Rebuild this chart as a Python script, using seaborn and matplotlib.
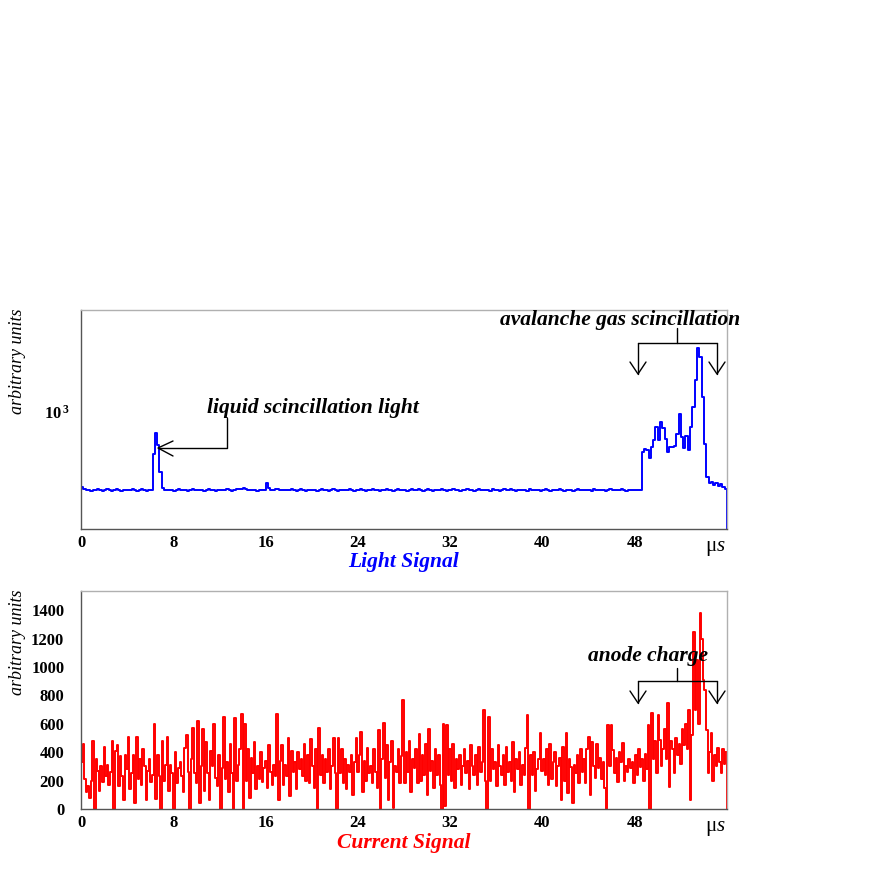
import numpy as np
import pandas as pd
import matplotlib
matplotlib.use("Agg")
import matplotlib.pyplot as plt
from matplotlib.lines import Line2D
from matplotlib.ticker import MultipleLocator, FixedLocator, NullFormatter
import seaborn as sns

# ---------------- data (0 .. 56 us) ----------------
t_max = 56.0

light_signal = [
    252, 246, 240, 238, 236, 240, 238, 242, 239, 236,
    240, 242, 238, 237, 240, 243, 239, 236, 238, 241,
    240, 238, 242, 240, 237, 239, 243, 240, 236, 238,
    238, 464, 680, 547, 330, 250, 240, 238, 241, 239,
    237, 240, 242, 239, 238, 240, 237, 239, 242, 240,
    238, 241, 239, 236, 240, 243, 238, 240, 237, 239,
    241, 238, 240, 242, 239, 236, 240, 244, 246, 242,
    248, 244, 240, 238, 241, 239, 237, 240, 238, 241,
    272, 250, 240, 238, 242, 244, 240, 238, 241, 239,
    240, 243, 238, 236, 240, 242, 239, 237, 240, 241,
    239, 241, 237, 240, 243, 240, 238, 236, 239, 242,
    240, 237, 239, 241, 238, 240, 243, 239, 237, 240,
    238, 242, 240, 237, 239, 241, 244, 240, 238, 236,
    240, 239, 242, 238, 240, 237, 241, 243, 239, 238,
    241, 237, 240, 246, 240, 238, 242, 239, 236, 240,
    243, 239, 237, 240, 241, 238, 244, 240, 237, 239,
    240, 242, 238, 241, 237, 240, 239, 245, 240, 238,
    236, 240, 243, 239, 241, 238, 240, 237, 242, 240,
    239, 236, 240, 242, 238, 241, 244, 239, 237, 240,
    241, 238, 240, 237, 243, 240, 238, 241, 239, 236,
    240, 242, 239, 237, 241, 238, 240, 244, 240, 237,
    238, 241, 240, 236, 239, 242, 240, 238, 241, 239,
    240, 237, 243, 239, 240, 238, 241, 237, 240, 242,
    239, 241, 238, 240, 244, 239, 237, 240, 238, 241,
    240, 238, 241, 480, 508, 500, 430, 520, 589, 750,
    590, 822, 740, 600, 475, 520, 520, 530, 668, 955,
    625, 515, 640, 500, 750, 1080, 1760, 3140, 2700, 1300,
    555, 301, 270, 275, 262, 272, 258, 265, 252, 245,
]

current_signal = [
    330, 460, 210, 120, 160, 75, 200, 480, 0, 350,
    270, 130, 300, 190, 440, 230, 310, 170, 260, 480,
    0, 410, 450, 160, 370, 230, 60, 380, 280, 510,
    140, 250, 380, 40, 510, 210, 350, 170, 420, 300,
    60, 270, 350, 190, 240, 600, 70, 380, 230, 0,
    480, 200, 310, 510, 130, 310, 250, 0, 400, 180,
    290, 330, 230, 120, 430, 520, 260, 0, 350, 570,
    250, 180, 620, 40, 300, 560, 130, 470, 250, 60,
    410, 300, 600, 220, 160, 380, 0, 290, 650, 210,
    330, 120, 460, 250, 0, 640, 200, 310, 420, 670,
    0, 600, 200, 420, 80, 360, 250, 470, 140, 300,
    210, 400, 190, 290, 340, 150, 450, 260, 170, 310,
    230, 670, 60, 340, 450, 170, 310, 230, 500, 90,
    410, 260, 330, 140, 400, 280, 350, 230, 460, 200,
    380, 180, 490, 300, 150, 420, 0, 568, 240, 380,
    180, 350, 260, 420, 140, 300, 497, 250, 0, 500,
    250, 420, 180, 350, 140, 310, 260, 380, 100, 330,
    500, 260, 380, 545, 120, 340, 200, 430, 250, 300,
    180, 420, 260, 150, 556, 0, 350, 606, 220, 450,
    60, 330, 480, 10, 300, 260, 420, 180, 370, 768,
    180, 400, 260, 480, 120, 350, 290, 420, 180, 530,
    200, 380, 240, 460, 100, 560, 270, 340, 150, 420,
    240, 380, 170, 0, 600, 20, 590, 240, 420, 200,
    460, 150, 350, 280, 380, 170, 300, 420, 250, 340,
    140, 450, 300, 240, 380, 170, 440, 260, 330, 697,
    200, 0, 650, 200, 420, 280, 330, 160, 450, 300,
    240, 380, 170, 440, 260, 330, 200, 470, 120, 350,
    280, 400, 170, 310, 240, 430, 660, 0, 380, 240,
    400, 130, 280, 350, 532, 270, 350, 240, 420, 170,
    460, 210, 330, 400, 160, 300, 360, 60, 437, 200,
    533, 110, 350, 298, 40, 310, 250, 380, 180, 420,
    260, 350, 180, 420, 510, 100, 475, 300, 220, 460,
    290, 360, 210, 330, 150, 0, 592, 300, 592, 415,
    250, 360, 190, 400, 330, 462, 200, 300, 260, 350,
    290, 330, 180, 380, 240, 420, 298, 350, 200, 390,
    280, 592, 0, 674, 350, 480, 250, 662, 486, 300,
    420, 560, 350, 744, 157, 480, 420, 250, 500, 380,
    460, 320, 560, 450, 600, 420, 697, 62, 520, 1249,
    700, 1050, 600, 1382, 1200, 908, 838, 556, 250, 400,
    533, 200, 380, 300, 430, 330, 250, 420, 320, 400,
]

x_ticks = [0, 8, 16, 24, 32, 40, 48]
light_ylim = (118, 6300)
current_ylim = (0, 1535)
current_yticks = [0, 200, 400, 600, 800, 1000, 1200, 1400]

# ---------------- style ----------------
sns.set_style("white")
plt.rcParams["font.family"] = ["Liberation Serif", "DejaVu Serif"]
plt.rcParams["text.color"] = "black"
plt.rcParams["xtick.labelcolor"] = "black"
plt.rcParams["ytick.labelcolor"] = "black"
plt.rcParams["mathtext.fontset"] = "custom"
plt.rcParams["mathtext.rm"] = "Liberation Serif"
plt.rcParams["mathtext.it"] = "Liberation Serif:italic"
plt.rcParams["mathtext.bf"] = "Liberation Serif:bold"

W = H = 872
fig = plt.figure(figsize=(8.72, 8.72), dpi=100)


def fx(px):
    return px / W


def fy(py):
    return 1 - py / H


ax1 = fig.add_axes([fx(81), fy(529), fx(727) - fx(81), fy(310) - fy(529)])
ax2 = fig.add_axes([fx(81), fy(809), fx(727) - fx(81), fy(591) - fy(809)])


def hist_frame(values):
    n = len(values)
    edges = np.linspace(0, t_max, n + 1)
    return pd.DataFrame({
        "t": np.append(edges[:-1], edges[-1]),
        "v": np.append(values, values[-1]),
    }), edges


df_l, edges_l = hist_frame(light_signal)
df_c, edges_c = hist_frame(current_signal)

sns.lineplot(data=df_l, x="t", y="v", ax=ax1, color="#0000ff", lw=1.4,
             drawstyle="steps-post", estimator=None, sort=False)
sns.lineplot(data=df_c, x="t", y="v", ax=ax2, color="#ff0000", lw=1.4,
             drawstyle="steps-post", estimator=None, sort=False)

ax1.set_yscale("log")
ax1.set_ylim(*light_ylim)
ax2.set_ylim(*current_ylim)
ax1.vlines([edges_l[0], edges_l[-1]], light_ylim[0],
           [light_signal[0], light_signal[-1]], color="#0000ff", lw=1.4)
ax2.vlines([edges_c[0], edges_c[-1]], current_ylim[0],
           [current_signal[0], current_signal[-1]], color="#ff0000", lw=1.4)

for ax in (ax1, ax2):
    ax.set_xlim(0, t_max)
    ax.set_xlabel("")
    ax.set_ylabel("")
    ax.set_xticks(x_ticks)
    ax.set_xticklabels([str(v) for v in x_ticks], fontsize=12, fontweight="bold")
    ax.tick_params(axis="x", direction="in", length=7, width=0.8, color="#777777", pad=4)
    ax.tick_params(axis="x", which="minor", length=0)
    for s in ("left", "bottom"):
        ax.spines[s].set_color("#555555")
        ax.spines[s].set_linewidth(1.0)
    for s in ("top", "right"):
        ax.spines[s].set_color("#b0b0b0")
        ax.spines[s].set_linewidth(1.0)
    ax.grid(False)

# top y axis (log)
ax1.yaxis.set_major_locator(FixedLocator([1000]))
ax1.set_yticklabels([r"$\mathbf{10^{\,3}}$"], fontsize=12)
ax1.yaxis.set_minor_locator(FixedLocator([200, 300, 400, 500, 600, 700, 800, 900,
                                          2000, 3000, 4000, 5000, 6000]))
ax1.yaxis.set_minor_formatter(NullFormatter())
ax1.tick_params(axis="y", which="major", direction="in", length=9, width=0.8,
                color="#777777", pad=8)
ax1.tick_params(axis="y", which="minor", direction="in", length=5, width=0.8,
                color="#777777")

# bottom y axis
ax2.set_yticks(current_yticks)
ax2.set_yticklabels([str(v) for v in current_yticks], fontsize=12, fontweight="bold")
ax2.yaxis.set_minor_locator(MultipleLocator(50))
ax2.tick_params(axis="y", which="major", direction="in", length=9, width=0.8,
                color="#777777", pad=12)
ax2.tick_params(axis="y", which="minor", direction="in", length=5, width=0.8,
                color="#777777")

# ---------------- texts ----------------
fig.text(fx(18), fy(361), "arbitrary units", rotation=90, ha="center", va="center",
         fontsize=13, fontstyle="italic")
fig.text(fx(17), fy(642), "arbitrary units", rotation=90, ha="center", va="center",
         fontsize=13, fontstyle="italic")

fig.text(fx(715), fy(548), r"$\mathrm{\mu}\mathit{s}$", ha="center", va="center", fontsize=15)
fig.text(fx(715), fy(828), r"$\mathrm{\mu}\mathit{s}$", ha="center", va="center", fontsize=15)

fig.text(fx(404), fy(562), "Light Signal", ha="center", va="center", fontsize=15.5,
         fontweight="bold", fontstyle="italic", color="#0000ff")
fig.text(fx(404), fy(843), "Current Signal", ha="center", va="center", fontsize=15.5,
         fontweight="bold", fontstyle="italic", color="#ff0000")

ann_kw = dict(ha="left", va="center", fontsize=15.5, fontweight="bold", fontstyle="italic")
fig.text(fx(207), fy(408), "liquid scincillation light", **ann_kw)
fig.text(fx(500), fy(320), "avalanche gas scincillation", **ann_kw)
fig.text(fx(588), fy(656), "anode charge", **ann_kw)


def pline(xs, ys):
    fig.add_artist(Line2D([fx(x) for x in xs], [fy(y) for y in ys],
                          transform=fig.transFigure, color="black", lw=1.0))


# liquid scintillation arrow
pline([227, 227, 158], [418, 448, 448])
pline([173, 158, 173], [441, 448, 456])


def bracket(top, mid, tip):
    pline([677, 677], [top, mid])
    pline([638, 717], [mid, mid])
    for x in (638, 717):
        pline([x, x], [mid, tip])
        pline([x - 8, x, x + 8], [tip - 12, tip, tip - 12])


bracket(328, 343, 374)
bracket(668, 681, 703)

fig.savefig("out.png", dpi=100, facecolor="white")
